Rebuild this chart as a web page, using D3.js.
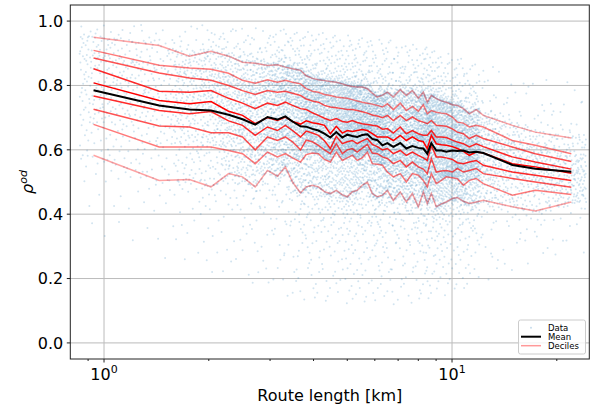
<!DOCTYPE html>
<html>
<head>
<meta charset="utf-8">
<script src="https://cdn.jsdelivr.net/npm/d3@7"></script>
<style>
  body { margin: 0; background: #fff; }
  svg text { font-family: "DejaVu Sans", sans-serif; fill: #000; }
</style>
</head>
<body>
<div id="chart"></div>
<script>
// --- Data ---
const routeKm = [0.933, 1.44, 1.76, 2.03, 2.28, 2.50, 2.72, 2.95, 3.15, 3.32, 3.48, 3.67, 3.81, 3.97, 4.13, 4.30,
  4.47, 4.65, 4.84, 5.00, 5.17, 5.34, 5.52, 5.71, 5.90, 6.10, 6.31, 6.52, 6.78, 7.10, 7.39, 7.69,
  8.00, 8.27, 8.49, 8.72, 9.01, 9.32, 9.63, 10.02, 10.36, 10.78, 11.21, 11.74, 12.30, 14.90, 17.35, 22.02];

const meanRho = [0.785, 0.738, 0.725, 0.722, 0.709, 0.695, 0.678, 0.702, 0.694, 0.704, 0.688, 0.673, 0.672, 0.665, 0.660, 0.650,
  0.638, 0.655, 0.638, 0.647, 0.643, 0.640, 0.646, 0.648, 0.634, 0.630, 0.614, 0.621, 0.609, 0.621, 0.604, 0.612,
  0.606, 0.604, 0.588, 0.621, 0.598, 0.598, 0.594, 0.598, 0.596, 0.598, 0.592, 0.594, 0.590, 0.553, 0.541, 0.532];

const d10 = [0.583, 0.505, 0.508, 0.485, 0.526, 0.516, 0.485, 0.536, 0.518, 0.547, 0.500, 0.466, 0.485, 0.490, 0.485, 0.470,
  0.464, 0.474, 0.460, 0.454, 0.470, 0.474, 0.490, 0.500, 0.464, 0.454, 0.459, 0.474, 0.443, 0.469, 0.438, 0.464,
  0.423, 0.469, 0.433, 0.464, 0.423, 0.432, 0.438, 0.449, 0.452, 0.440, 0.433, 0.438, 0.443, 0.423, 0.410, 0.438];
const d20 = [0.679, 0.609, 0.609, 0.609, 0.598, 0.588, 0.557, 0.593, 0.578, 0.588, 0.575, 0.562, 0.585, 0.590, 0.588, 0.570,
  0.562, 0.593, 0.567, 0.575, 0.583, 0.567, 0.575, 0.593, 0.557, 0.555, 0.552, 0.531, 0.516, 0.526, 0.500, 0.526,
  0.521, 0.505, 0.485, 0.526, 0.495, 0.505, 0.516, 0.513, 0.510, 0.490, 0.505, 0.511, 0.495, 0.459, 0.474, 0.461];
const d30 = [0.726, 0.674, 0.671, 0.653, 0.653, 0.640, 0.600, 0.640, 0.629, 0.640, 0.625, 0.600, 0.630, 0.625, 0.614, 0.600,
  0.588, 0.619, 0.588, 0.600, 0.604, 0.593, 0.605, 0.617, 0.590, 0.588, 0.578, 0.573, 0.557, 0.567, 0.547, 0.562,
  0.547, 0.540, 0.526, 0.573, 0.531, 0.534, 0.536, 0.531, 0.542, 0.531, 0.536, 0.542, 0.526, 0.511, 0.500, 0.484];
const d40 = [0.767, 0.722, 0.712, 0.719, 0.690, 0.676, 0.645, 0.671, 0.660, 0.676, 0.660, 0.640, 0.658, 0.652, 0.645, 0.628,
  0.604, 0.642, 0.619, 0.625, 0.629, 0.619, 0.628, 0.635, 0.617, 0.610, 0.600, 0.604, 0.588, 0.598, 0.583, 0.593,
  0.583, 0.575, 0.567, 0.614, 0.578, 0.578, 0.575, 0.570, 0.560, 0.557, 0.562, 0.567, 0.552, 0.531, 0.521, 0.505];
const d50 = [0.808, 0.753, 0.743, 0.750, 0.720, 0.707, 0.681, 0.700, 0.691, 0.702, 0.688, 0.680, 0.690, 0.684, 0.681, 0.676,
  0.650, 0.673, 0.652, 0.660, 0.657, 0.660, 0.663, 0.660, 0.650, 0.640, 0.640, 0.640, 0.629, 0.645, 0.629, 0.640,
  0.629, 0.625, 0.604, 0.645, 0.619, 0.616, 0.614, 0.610, 0.604, 0.595, 0.583, 0.593, 0.590, 0.557, 0.547, 0.527];
const d60 = [0.852, 0.782, 0.779, 0.784, 0.760, 0.745, 0.728, 0.745, 0.738, 0.748, 0.738, 0.728, 0.725, 0.715, 0.707, 0.698,
  0.691, 0.697, 0.688, 0.686, 0.691, 0.685, 0.681, 0.679, 0.676, 0.674, 0.664, 0.666, 0.652, 0.671, 0.650, 0.660,
  0.650, 0.645, 0.645, 0.660, 0.640, 0.640, 0.638, 0.630, 0.624, 0.619, 0.609, 0.619, 0.610, 0.578, 0.562, 0.540];
const d70 = [0.885, 0.839, 0.823, 0.816, 0.800, 0.784, 0.772, 0.784, 0.779, 0.782, 0.776, 0.769, 0.758, 0.752, 0.748, 0.738,
  0.733, 0.731, 0.728, 0.725, 0.725, 0.722, 0.718, 0.714, 0.708, 0.705, 0.700, 0.707, 0.691, 0.707, 0.691, 0.702,
  0.691, 0.686, 0.681, 0.691, 0.676, 0.675, 0.673, 0.665, 0.655, 0.650, 0.635, 0.645, 0.635, 0.609, 0.588, 0.564];
const d80 = [0.909, 0.863, 0.854, 0.850, 0.838, 0.816, 0.807, 0.818, 0.810, 0.816, 0.810, 0.805, 0.790, 0.782, 0.779, 0.772,
  0.769, 0.764, 0.762, 0.760, 0.756, 0.752, 0.748, 0.745, 0.742, 0.738, 0.733, 0.743, 0.725, 0.745, 0.722, 0.735,
  0.720, 0.740, 0.712, 0.722, 0.717, 0.714, 0.712, 0.702, 0.686, 0.683, 0.671, 0.676, 0.671, 0.629, 0.614, 0.588];
const d90 = [0.950, 0.924, 0.891, 0.906, 0.891, 0.872, 0.869, 0.862, 0.864, 0.857, 0.852, 0.847, 0.830, 0.822, 0.818, 0.815,
  0.812, 0.810, 0.805, 0.800, 0.797, 0.795, 0.795, 0.790, 0.776, 0.764, 0.770, 0.779, 0.764, 0.787, 0.769, 0.784,
  0.760, 0.779, 0.748, 0.769, 0.759, 0.752, 0.748, 0.740, 0.738, 0.728, 0.712, 0.725, 0.707, 0.676, 0.655, 0.637];

const decileLevels = [0.1, 0.2, 0.3, 0.4, 0.5, 0.6, 0.7, 0.8, 0.9];
const decileSeries = [d10, d20, d30, d40, d50, d60, d70, d80, d90];

// outer edge of the scattered cloud (rough)
const cloudEdgeKm = [0.85, 2, 4, 8, 12, 24];
const cloudLow = [0.32, 0.22, 0.12, 0.12, 0.18, 0.28];
const cloudHigh = [1.0, 0.99, 0.97, 0.93, 0.87, 0.80];
const pointsPerBin = 230;   // bins hold equal counts

const yTicks = [0.0, 0.2, 0.4, 0.6, 0.8, 1.0];
const xMajorTicks = [1, 10];
const xMinorTicks = [0.9, 2, 3, 4, 5, 6, 7, 8, 9, 20];

// --- Sizes ---
const W = 591, H = 412;
const plot = { left: 70.3, right: 589.3, top: 5, bottom: 359 };

const svg = d3.select("#chart")
  .append("svg")
  .attr("width", W)
  .attr("height", H);

// --- Scales ---
const x = d3.scaleLog().domain([0.80, 24.8]).range([plot.left, plot.right]);
const y = d3.scaleLinear().domain([-0.05, 1.05]).range([plot.bottom, plot.top]);

svg.append("defs").append("clipPath").attr("id", "clip")
  .append("rect")
  .attr("x", plot.left).attr("y", plot.top)
  .attr("width", plot.right - plot.left).attr("height", plot.bottom - plot.top);

// --- Grid ---
const grid = svg.append("g").attr("stroke", "#b0b0b0").attr("stroke-width", 1).attr("opacity", 0.85);
grid.selectAll(".gy").data(yTicks).join("line")
  .attr("x1", plot.left).attr("x2", plot.right)
  .attr("y1", d => y(d)).attr("y2", d => y(d));
grid.selectAll(".gx").data(xMajorTicks).join("line")
  .attr("x1", d => x(d)).attr("x2", d => x(d))
  .attr("y1", plot.top).attr("y2", plot.bottom);

// --- Scatter cloud: equal-count bins, points spread over the decile profile ---
const halton = (i, b) => {
  let f = 1, r = 0;
  while (i > 0) { f /= b; r += f * (i % b); i = Math.floor(i / b); }
  return r;
};
const logC = routeKm.map(Math.log10);
const profile = decileSeries.map(s => d3.scaleLinear().domain(logC).range(s).clamp(true));
const lowAt = d3.scaleLinear().domain(cloudEdgeKm.map(Math.log10)).range(cloudLow).clamp(true);
const highAt = d3.scaleLinear().domain(cloudEdgeKm.map(Math.log10)).range(cloudHigh).clamp(true);

const cloud = [];
let k = 1;
logC.forEach((c, i) => {
  const lo = i === 0 ? Math.log10(0.85) : (logC[i - 1] + c) / 2;
  const hi = i === logC.length - 1 ? Math.log10(24.3) : (logC[i + 1] + c) / 2;
  for (let j = 0; j < pointsPerBin; j++, k++) {
    const lx = lo + halton(k, 2) * (hi - lo);
    const u = halton(k, 3);
    const q = profile.map(p => p(lx));
    let v;
    if (u < 0.1) {
      const t = (0.1 - u) / 0.1;
      v = q[0] - (q[0] - lowAt(lx)) * Math.pow(t, 3);
    } else if (u > 0.9) {
      const t = (u - 0.9) / 0.1;
      v = q[8] + (highAt(lx) - q[8]) * Math.pow(t, 3);
    } else {
      const pos = (u - 0.1) / 0.1;
      const a = Math.min(7, Math.floor(pos));
      v = q[a] + (q[a + 1] - q[a]) * (pos - a);
    }
    cloud.push({ km: Math.pow(10, lx), rho: v });
  }
});

const plotArea = svg.append("g").attr("clip-path", "url(#clip)");
plotArea.append("g")
  .selectAll("circle")
  .data(cloud)
  .join("circle")
  .attr("cx", d => x(d.km))
  .attr("cy", d => y(d.rho))
  .attr("r", 1)
  .attr("fill", "#1f77b4")
  .attr("fill-opacity", 0.2);

// --- Decile lines ---
const line = d3.line().x((d, i) => x(routeKm[i])).y(d => y(d));
decileSeries.forEach((s, i) => {
  const a = 1 - 1.6 * Math.abs(decileLevels[i] - 0.5);
  plotArea.append("path")
    .attr("d", line(s))
    .attr("fill", "none")
    .attr("stroke", "red")
    .attr("stroke-opacity", a)
    .attr("stroke-width", 1.5);
});

// --- Mean line ---
plotArea.append("path")
  .attr("d", line(meanRho))
  .attr("fill", "none")
  .attr("stroke", "black")
  .attr("stroke-width", 2);

// --- Axes ---
svg.append("rect")
  .attr("x", plot.left).attr("y", plot.top)
  .attr("width", plot.right - plot.left).attr("height", plot.bottom - plot.top)
  .attr("fill", "none").attr("stroke", "#222").attr("stroke-width", 1);

const ticks = svg.append("g").attr("stroke", "#222").attr("stroke-width", 1);
ticks.selectAll(".ty").data(yTicks).join("line")
  .attr("x1", plot.left - 3.5).attr("x2", plot.left)
  .attr("y1", d => y(d)).attr("y2", d => y(d));
ticks.selectAll(".tx").data(xMajorTicks).join("line")
  .attr("x1", d => x(d)).attr("x2", d => x(d))
  .attr("y1", plot.bottom).attr("y2", plot.bottom + 3.5);
ticks.selectAll(".tm").data(xMinorTicks).join("line")
  .attr("x1", d => x(d)).attr("x2", d => x(d))
  .attr("y1", plot.bottom).attr("y2", plot.bottom + 2);

svg.selectAll(".ly").data(yTicks).join("text")
  .attr("x", plot.left - 7)
  .attr("y", d => y(d))
  .attr("dy", "0.36em")
  .attr("text-anchor", "end")
  .style("font-size", "16px")
  .text(d => d.toFixed(1));

const xl = svg.selectAll(".lx").data(xMajorTicks).join("text")
  .attr("x", d => x(d))
  .attr("y", 380)
  .attr("text-anchor", "middle")
  .style("font-size", "16px");
xl.append("tspan").text("10");
xl.append("tspan").attr("dy", -7).style("font-size", "11px").text(d => Math.round(Math.log10(d)));

svg.append("text")
  .attr("x", (plot.left + plot.right) / 2)
  .attr("y", 401)
  .attr("text-anchor", "middle")
  .style("font-size", "16px")
  .text("Route length [km]");

const yl = svg.append("text")
  .attr("transform", `translate(33, ${(plot.top + plot.bottom) / 2}) rotate(-90)`)
  .attr("text-anchor", "middle")
  .style("font-size", "16px")
  .style("font-style", "italic");
yl.append("tspan").text("ρ");
yl.append("tspan").attr("dy", -6).style("font-size", "11px").text("od");

// --- Legend ---
const lg = svg.append("g").attr("transform", "translate(518.5, 320)");
lg.append("rect")
  .attr("width", 67).attr("height", 34).attr("rx", 2)
  .attr("fill", "white").attr("fill-opacity", 0.8)
  .attr("stroke", "#cccccc").attr("stroke-width", 1);
const rows = [
  { label: "Data", kind: "dot" },
  { label: "Mean", kind: "line", color: "black", op: 1, w: 2 },
  { label: "Deciles", kind: "line", color: "red", op: 0.4, w: 1.5 }
];
rows.forEach((r, i) => {
  const cy = 7.7 + i * 9;
  if (r.kind === "dot") {
    lg.append("circle").attr("cx", 12.5).attr("cy", cy).attr("r", 1)
      .attr("fill", "#1f77b4").attr("fill-opacity", 0.25);
  } else {
    lg.append("line").attr("x1", 2.5).attr("x2", 22.5).attr("y1", cy).attr("y2", cy)
      .attr("stroke", r.color).attr("stroke-opacity", r.op).attr("stroke-width", r.w);
  }
  lg.append("text").attr("x", 29.5).attr("y", cy).attr("dy", "0.36em")
    .style("font-size", "8.5px").text(r.label);
});
</script>
</body>
</html>
